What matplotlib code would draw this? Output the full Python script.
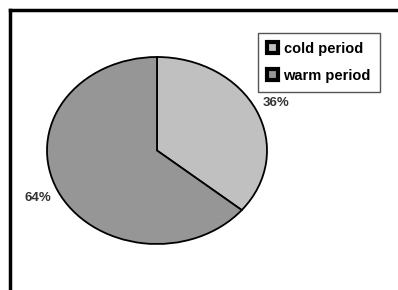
import matplotlib.pyplot as plt
from matplotlib.patches import Rectangle
from matplotlib.lines import Line2D

# data
labels = ["cold period", "warm period"]
shares = [36, 64]
colors = ["#c0c0c0", "#969696"]

fig = plt.figure(figsize=(3.98, 2.90), dpi=100)
fig.patch.set_facecolor("white")

# pie as an ellipse (axes not equal aspect)
ax = fig.add_axes([47 / 398, (290 - 244) / 290, 220 / 398, 187 / 290])
wedges, texts, autotexts = ax.pie(
    shares, colors=colors, startangle=90, counterclock=False,
    autopct="%d%%", pctdistance=1.2,
    wedgeprops={"edgecolor": "black", "linewidth": 1.3},
    textprops={"fontsize": 9.5, "fontweight": "bold", "color": "#333333",
               "family": "Liberation Sans"},
)
ax.set_aspect("auto")
ax.set_xlim(-1.0, 1.0)
ax.set_ylim(-1.0, 1.0)
for t in autotexts:
    t.set_clip_on(False)

# frame of the original chart area (top and left edges only visible)
fig.add_artist(Line2D([10 / 398, 10 / 398], [0, 1 - 10 / 290],
                      color="black", linewidth=2.5, transform=fig.transFigure))
fig.add_artist(Line2D([10 / 398, 1.0], [1 - 10 / 290, 1 - 10 / 290],
                      color="black", linewidth=2.5, transform=fig.transFigure))

# legend
handles = [Rectangle((0, 0), 1, 1, facecolor=c, edgecolor="black", linewidth=3)
           for c in colors]
leg = fig.legend(handles, labels, loc="upper left",
                 bbox_to_anchor=(258 / 398, 1 - 33 / 290),
                 frameon=True, fancybox=False, framealpha=1,
                 prop={"family": "Liberation Sans", "weight": "bold", "size": 10.5},
                 handlelength=0.75, handleheight=0.75, handletextpad=0.4,
                 labelspacing=0.9, borderpad=0.6, borderaxespad=0)
leg.get_frame().set_edgecolor("#555555")
leg.get_frame().set_linewidth(1.0)

fig.savefig("out.png", dpi=100)
